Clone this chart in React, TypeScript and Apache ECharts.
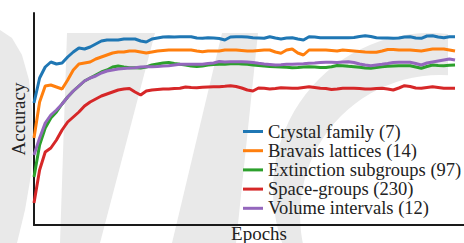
import React, { useEffect, useRef } from "react";
import * as echarts from "echarts";

const epochs = Array.from({ length: 76 }, (_, i) => i + 1);

const seriesNames = [
  "Crystal family (7)",
  "Bravais lattices (14)",
  "Extinction subgroups (97)",
  "Space-groups (230)",
  "Volume intervals (12)",
];

const seriesColors = ["#1f77b4", "#ff7f0e", "#2ca02c", "#d62728", "#9467bd"];

const crystalFamily = [
  122, 147, 158, 163, 161, 162, 168, 173, 177, 176, 178, 181, 184, 185, 185, 185, 186, 186, 186, 184,
  183, 186, 187, 188, 188.3, 188, 188.3, 188.3, 188.3, 187, 186.7, 187.3, 187, 186.5, 185, 188, 188.3, 188.3, 188, 187.3,
  187, 186.7, 188.3, 187, 186, 187, 187.3, 186, 185, 188.3, 188, 187.3, 187.3, 187.3, 187.3, 187.3, 187.3, 187.5, 188.5, 189.3,
  188.5, 187.3, 187, 187, 186.7, 187, 188, 188.3, 187, 186.7, 189, 189.3, 188, 187.3, 188.3, 188.3,
];

const bravaisLattices = [
  87, 123, 139, 140, 138, 136, 145, 155, 161, 162, 163, 166, 168, 170, 172, 173, 173, 174, 174, 173,
  172, 173, 174, 174.5, 175, 175, 175, 175, 175, 174, 173.3, 174, 174, 174, 175, 175, 175, 174.5, 174, 174,
  174.5, 175, 175, 173, 171.7, 175, 176, 172, 170, 175, 175, 175, 175, 174.5, 174, 175, 174.5, 174, 173.5, 173,
  172.7, 172.7, 174, 175.5, 175.5, 175, 175, 175, 174.5, 174, 175, 176, 176, 176, 175, 174,
];

const extinctionSubgroups = [
  48, 80, 97, 107, 113, 121, 128, 134, 139, 144, 147, 150, 153, 155, 158, 159, 158, 157.3, 157.3, 157,
  158, 160, 161, 162, 162.5, 161.5, 160.7, 160, 159, 158.5, 159, 160, 160.5, 160.7, 160.7, 161.3, 161.5, 161, 160.7, 160,
  159.5, 159, 158.5, 158.3, 158, 157.7, 157.3, 157.5, 158, 158.3, 158, 157.5, 157.5, 158.2, 159.5, 159.3, 158.7, 158.3, 157.7, 157,
  156.7, 157.5, 158.3, 158.7, 159, 159.3, 159.3, 159.3, 158, 156.7, 158.5, 160, 159.5, 159.3, 159.7, 160,
];

const spaceGroups = [
  22, 55, 73, 77, 85, 95, 103, 108, 113, 119, 123, 126, 129, 131, 133, 135, 136, 136.5, 133, 130,
  134, 135, 135.5, 136, 136, 136.5, 136.7, 138, 137.5, 137.3, 137.7, 138, 138.2, 138.3, 138.7, 139.3, 138.5, 137, 135, 134,
  137, 136.7, 136, 136.5, 137.3, 137, 136.7, 136.7, 137.5, 138.3, 137.5, 136.7, 136.5, 135.5, 136, 136.7, 136.7, 136.7, 136.5, 136,
  136, 136.5, 136.7, 136, 135, 137, 139.3, 138.5, 137, 136.7, 137.5, 138.3, 137.5, 136.7, 136.7, 136.7,
];

const volumeIntervals = [
  70, 87, 102, 110, 115, 121, 128, 134, 139, 144, 147, 149, 152, 154, 155, 156, 156.5, 157, 157.3, 158,
  158.3, 158.3, 158.5, 159, 159.3, 160, 160.7, 160.7, 160.7, 160.7, 160.7, 161.5, 162, 163.5, 163, 163.3, 163.3, 163.3, 163, 162.5,
  161.7, 161, 160.5, 160, 160.3, 160.7, 160.7, 161, 161.3, 161.7, 162, 162.5, 162.7, 162.7, 162.5, 163, 163.3, 162.5, 161, 160,
  159.3, 160, 160.7, 161.5, 162.5, 162.7, 162.7, 162.7, 161.5, 160, 162, 163, 164, 165, 166, 165,
];

const allSeries = [crystalFamily, bravaisLattices, extinctionSubgroups, spaceGroups, volumeIntervals];

const WM = "#e9e9e9";
const FONT = "Liberation Serif";
const TXT = "#222222";

export default function App() {
  const bgRef = useRef<HTMLDivElement>(null);
  const ref = useRef<HTMLDivElement>(null);
  useEffect(() => {
    if (!ref.current || !bgRef.current) return;
    const bg = echarts.init(bgRef.current, null, { renderer: "svg" });
    bg.setOption({
      animation: false,
      graphic: [
        {
          type: "polygon",
          silent: true,
          shape: { points: [[0, 30], [12, 38], [22, 55], [29, 80], [32, 110], [33, 140], [31, 175], [25, 210], [17, 243], [0, 243]] },
          style: { fill: WM },
        },
        { type: "polygon", silent: true, shape: { points: [[67, 33], [155, 33], [100, 243], [60, 243]] }, style: { fill: WM } },
        { type: "polygon", silent: true, shape: { points: [[172, 243], [236, 243], [258, 33], [222, 33]] }, style: { fill: WM } },
        { type: "circle", z: 1, silent: true, shape: { cx: 430, cy: 190, r: 157 }, style: { fill: WM } },
        { type: "circle", z: 2, silent: true, shape: { cx: 440, cy: 215, r: 140 }, style: { fill: "#ffffff" } },
        { type: "rect", z: 2, silent: true, shape: { x: 448, y: 0, width: 20, height: 243 }, style: { fill: "#ffffff" } },
      ],
    });

    const chart = echarts.init(ref.current, null, { renderer: "svg" });
    chart.setOption({
      animation: false,
      grid: { left: 34, right: 0, top: 13, bottom: 18, containLabel: false },
      xAxis: {
        type: "value",
        min: 1,
        max: 77.6,
        axisLine: { show: true, onZero: false, lineStyle: { color: "#1a1a1a", width: 2 } },
        axisTick: { show: false },
        axisLabel: { show: false },
        splitLine: { show: false },
      },
      yAxis: {
        type: "value",
        min: 0,
        max: 212,
        axisLine: { show: true, onZero: false, lineStyle: { color: "#1a1a1a", width: 2 } },
        axisTick: { show: false },
        axisLabel: { show: false },
        splitLine: { show: false },
      },
      legend: {
        orient: "vertical",
        left: 243,
        top: 122,
        padding: 0,
        itemGap: 0.2,
        itemWidth: 20,
        itemHeight: 3,
        icon: "rect",
        textStyle: { fontFamily: FONT, fontSize: 18.5, color: TXT, lineHeight: 15 },
        data: seriesNames,
      },
      graphic: [
        {
          type: "text",
          x: 18,
          y: 119,
          rotation: Math.PI / 2,
          style: { text: "Accuracy", fontFamily: FONT, fontSize: 19, fill: TXT, align: "center", verticalAlign: "middle" },
        },
        {
          type: "text",
          x: 259,
          y: 242,
          style: { text: "Epochs", fontFamily: FONT, fontSize: 19, lineHeight: 17, fill: TXT, align: "center", verticalAlign: "bottom" },
        },
      ],
      series: allSeries.map((vals, k) => ({
        name: seriesNames[k],
        type: "line",
        showSymbol: false,
        symbol: "none",
        color: seriesColors[k],
        lineStyle: { width: 3, color: seriesColors[k] },
        data: vals.map((v, i) => [epochs[i], v]),
      })),
    });
    return () => {
      chart.dispose();
      bg.dispose();
    };
  }, []);
  return (
    <div style={{ position: "absolute", left: 0, top: 0, width: 464, height: 243, background: "#ffffff" }}>
      <div ref={bgRef} style={{ width: 464, height: 243, position: "absolute", left: 0, top: 0 }} />
      <div ref={ref} style={{ width: 464, height: 243, position: "absolute", left: 0, top: 0 }} />
    </div>
  );
}
